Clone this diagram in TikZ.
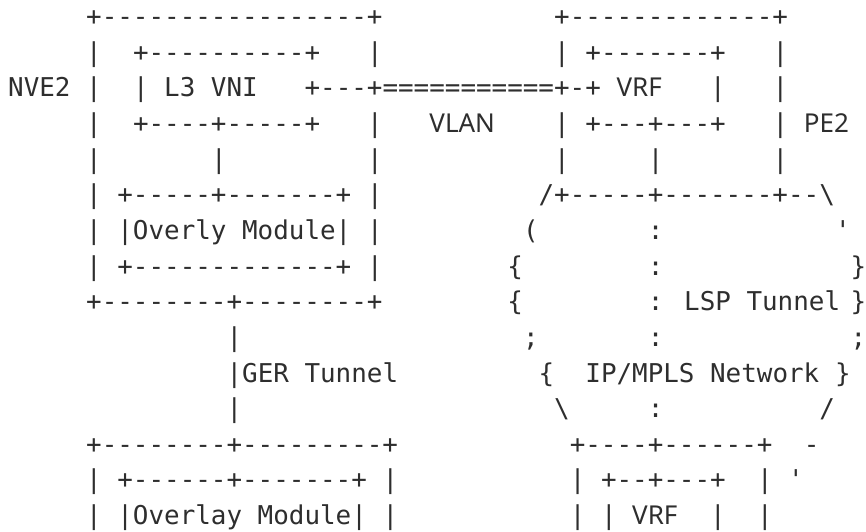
\documentclass[tikz,border=0pt]{standalone}
\usepackage{fontspec}
\newfontfamily\asciifont{DejaVu Sans Mono}[Ligatures=TeXOff]
\newfontfamily\wordfont{Noto Sans}[Ligatures=TeXOff]
\definecolor{ink}{HTML}{2E2E2E}
% character cell of the monospaced grid
\newlength\cw
\setlength\cw{15.6pt}
\def\cwn{15.6}   % cell width
\def\xo{8.2}     % left edge of column 0
\def\byo{25.5}   % baseline of row 1
\def\pit{35.65}  % row pitch
% a word in the sans face, kept to n cells
\newcommand\sw[2]{\makebox[#1\cw][l]{\wordfont\fontsize{26pt}{30pt}\selectfont #2}}
% one run of text at (row, column)
\newcommand\seg[3]{\node[asc] (r#1c#2) at ({#2*\cwn+\xo},{-(\byo+(#1-1)*\pit)}) {#3};}
\tikzset{asc/.style={font=\asciifont\fontsize{25.9pt}{30pt}\selectfont, text=ink,
  inner sep=0pt, outer sep=0pt, anchor=base west}}
\begin{document}
\begin{tikzpicture}[x=1pt,y=1pt]
\useasboundingbox[fill=white] (0,0) rectangle (866,-531);
% row 1
\seg{1}{5}{+-----------------+}
\seg{1}{35}{+-------------+}
% row 2
\seg{2}{5}{|}
\seg{2}{8}{+----------+}
\seg{2}{23}{|}
\seg{2}{35}{|}
\seg{2}{37}{+-------+}
\seg{2}{49}{|}
% row 3
\seg{3}{0}{NVE2}
\seg{3}{5}{|}
\seg{3}{8}{| L3 VNI}
\seg{3}{19}{+---+===========+-+}
\seg{3}{39}{\sw{3}{VRF}}
\seg{3}{45}{|}
\seg{3}{49}{|}
% row 4
\seg{4}{5}{|}
\seg{4}{8}{+----+-----+}
\seg{4}{23}{|}
\seg{4}{27}{\sw{4}{VLAN}}
\seg{4}{35}{|}
\seg{4}{37}{+---+---+}
\seg{4}{49}{|}
\seg{4}{51}{\sw{3}{PE2}}
% row 5
\seg{5}{5}{|}
\seg{5}{13}{|}
\seg{5}{23}{|}
\seg{5}{35}{|}
\seg{5}{41}{|}
\seg{5}{49}{|}
% row 6
\seg{6}{5}{|}
\seg{6}{7}{+-----+-------+}
\seg{6}{23}{|}
\seg{6}{34}{/+-----+-------+--\textbackslash}
% row 7
\seg{7}{5}{|}
\seg{7}{7}{|Overly Module|}
\seg{7}{23}{|}
\seg{7}{33}{(}
\seg{7}{41}{:}
\seg{7}{53}{'}
% row 8
\seg{8}{5}{|}
\seg{8}{7}{+-------------+}
\seg{8}{23}{|}
\seg{8}{32}{\{}
\seg{8}{41}{:}
\seg{8}{54}{\}}
% row 9
\seg{9}{5}{+--------+--------+}
\seg{9}{32}{\{}
\seg{9}{41}{: LSP Tunnel}
\seg{9}{54}{\}}
% row 10
\seg{10}{14}{|}
\seg{10}{33}{;}
\seg{10}{41}{:}
\seg{10}{54}{;}
% row 11
\seg{11}{14}{|GER Tunnel}
\seg{11}{34}{\{}
\seg{11}{37}{IP/MPLS Network}
\seg{11}{53}{\}}
% row 12
\seg{12}{14}{|}
\seg{12}{35}{\textbackslash}
\seg{12}{41}{:}
\seg{12}{52}{/}
% row 13
\seg{13}{5}{+--------+---------+}
\seg{13}{36}{+----+------+}
\seg{13}{51}{-}
% row 14
\seg{14}{5}{|}
\seg{14}{7}{+------+-------+}
\seg{14}{24}{|}
\seg{14}{36}{|}
\seg{14}{38}{+--+---+}
\seg{14}{48}{|}
\seg{14}{50}{'}
% row 15
\seg{15}{5}{|}
\seg{15}{7}{|Overlay Module|}
\seg{15}{24}{|}
\seg{15}{36}{|}
\seg{15}{38}{|}
\seg{15}{40}{\sw{3}{VRF}}
\seg{15}{45}{|}
\seg{15}{48}{|}
\end{tikzpicture}
\end{document}
